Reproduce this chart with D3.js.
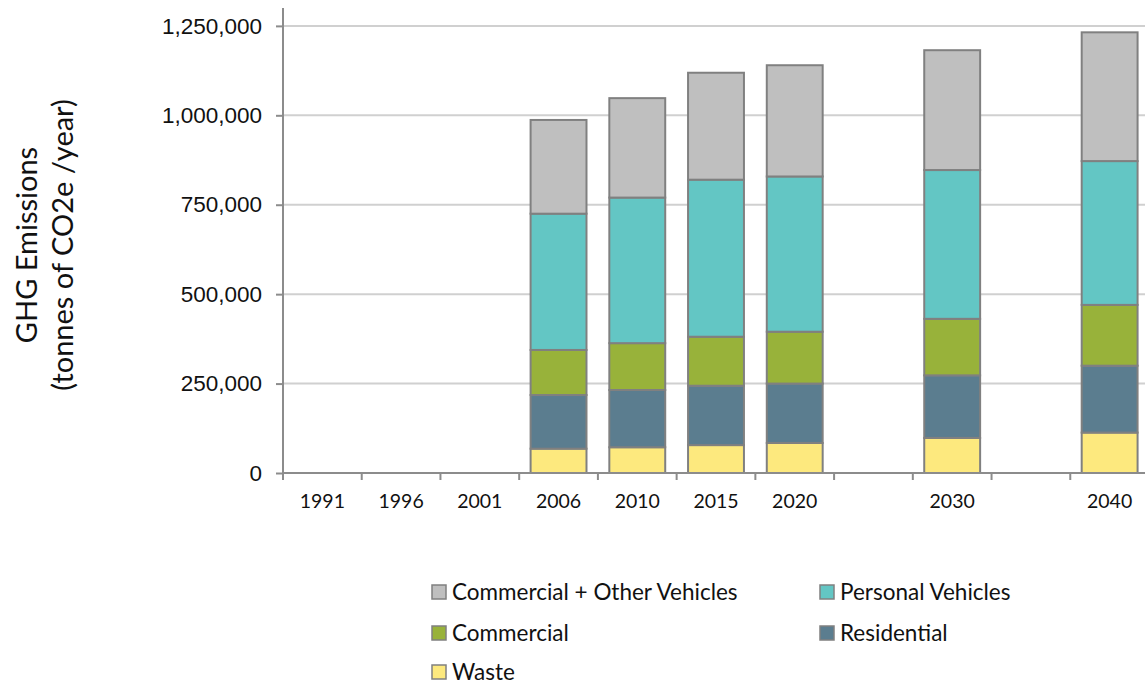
<!DOCTYPE html>
<html>
<head>
<meta charset="utf-8">
<script src="https://cdn.jsdelivr.net/npm/d3@7"></script>
<style>
  html, body { margin: 0; padding: 0; background: #fff; }
  svg { display: block; font-family: Lato, "Open Sans", sans-serif; }
</style>
</head>
<body>
<svg id="chart" width="1145" height="685"></svg>
<script>
// Year slots along the x axis (two unlabelled gap slots between 2020–2030 and 2030–2040)
const yearLabels = ["1991", "1996", "2001", "2006", "2010", "2015", "2020", "", "2030", "", "2040"];

// Emissions by sector, tonnes CO2e per year (null = no data for that slot)
const waste        = [null, null, null,  68000,  72000,  78000,  84000, null,  98000, null, 113000];
const residential  = [null, null, null, 150000, 160000, 166000, 166000, null, 175000, null, 187000];
const commercial   = [null, null, null, 126000, 131000, 137000, 145000, null, 158000, null, 170000];
const personalVeh  = [null, null, null, 381000, 407000, 439000, 434000, null, 416000, null, 402000];
const otherVeh     = [null, null, null, 262000, 278000, 299000, 311000, null, 335000, null, 360000];

const seriesNames  = ["Waste", "Residential", "Commercial", "Personal Vehicles", "Commercial + Other Vehicles"];
const seriesColors = ["#FDE97E", "#5B7D8F", "#98B23A", "#63C6C4", "#BFBFBF"];
const yTicks = [0, 250000, 500000, 750000, 1000000, 1250000];

const svg = d3.select("#chart");
const plot = { left: 283, right: 1149, top: 8, bottom: 473 };

const rows = yearLabels.map((lab, i) => ({
  idx: i,
  "Waste": waste[i] || 0,
  "Residential": residential[i] || 0,
  "Commercial": commercial[i] || 0,
  "Personal Vehicles": personalVeh[i] || 0,
  "Commercial + Other Vehicles": otherVeh[i] || 0,
  has: waste[i] != null
}));

const x = d3.scaleBand()
  .domain(d3.range(yearLabels.length))
  .range([plot.left, plot.right])
  .paddingInner(0.29)
  .paddingOuter(0.145);

const y = d3.scaleLinear()
  .domain([0, 1300000])
  .range([plot.bottom, plot.top]);

// Horizontal gridlines
svg.append("g")
  .selectAll("line")
  .data(yTicks.filter(t => t > 0))
  .join("line")
  .attr("x1", plot.left).attr("x2", 1145)
  .attr("y1", d => y(d)).attr("y2", d => y(d))
  .attr("stroke", "#D0D0D0")
  .attr("stroke-width", 2);

// Stacked bars
const stack = d3.stack().keys(seriesNames);
const layers = stack(rows);
const color = d3.scaleOrdinal().domain(seriesNames).range(seriesColors);

svg.append("g")
  .selectAll("g")
  .data(layers)
  .join("g")
  .attr("fill", d => color(d.key))
  .selectAll("rect")
  .data(d => d.filter(s => s.data.has))
  .join("rect")
  .attr("x", d => x(d.data.idx))
  .attr("width", x.bandwidth())
  .attr("y", d => y(d[1]))
  .attr("height", d => y(d[0]) - y(d[1]))
  .attr("stroke", "#808080")
  .attr("stroke-width", 2);

// Y axis
const yAxis = svg.append("g")
  .attr("transform", `translate(${plot.left},0)`)
  .call(d3.axisLeft(y).tickValues(yTicks).tickSize(7).tickPadding(14).tickFormat(d3.format(",")));
yAxis.select(".domain").attr("d", `M-0,${plot.top}V${plot.bottom}`);
yAxis.selectAll("path, line").attr("stroke", "#8C8C8C").attr("stroke-width", 2);
yAxis.selectAll("text").attr("font-size", 22.5).attr("fill", "#111");

// X axis: ticks sit on the slot boundaries, labels centred in each slot
const xAxis = svg.append("g").attr("transform", `translate(0,${plot.bottom})`);
xAxis.append("line")
  .attr("x1", plot.left).attr("x2", 1145)
  .attr("stroke", "#8C8C8C").attr("stroke-width", 2);
const step = x.step();
xAxis.selectAll(".tick")
  .data(d3.range(yearLabels.length))
  .join("line")
  .attr("class", "tick")
  .attr("x1", i => x(i) - (step - x.bandwidth()) / 2)
  .attr("x2", i => x(i) - (step - x.bandwidth()) / 2)
  .attr("y1", 0).attr("y2", 7)
  .attr("stroke", "#8C8C8C").attr("stroke-width", 2);
xAxis.selectAll(".lab")
  .data(yearLabels)
  .join("text")
  .attr("class", "lab")
  .attr("x", (d, i) => x(i) + x.bandwidth() / 2)
  .attr("y", 35)
  .attr("text-anchor", "middle")
  .attr("font-size", 19.5)
  .attr("fill", "#111")
  .text(d => d);

// Y axis title
const title = svg.append("text")
  .attr("transform", "translate(0,245) rotate(-90)")
  .attr("text-anchor", "middle")
  .attr("font-size", 29)
  .attr("fill", "#111");
title.append("tspan").attr("x", 0).attr("y", 37).text("GHG Emissions");
title.append("tspan").attr("x", 0).attr("y", 73).text("(tonnes of CO2e /year)");

// Legend
const legendOrder = ["Commercial + Other Vehicles", "Personal Vehicles", "Commercial", "Residential", "Waste"];
const legendCols = [432, 820];
const legendRowY = [592, 633, 672];
const legend = svg.append("g")
  .selectAll("g")
  .data(legendOrder)
  .join("g")
  .attr("transform", (d, i) => `translate(${legendCols[i % 2]},${legendRowY[Math.floor(i / 2)]})`);
legend.append("rect")
  .attr("x", 0).attr("y", -7)
  .attr("width", 14).attr("height", 14)
  .attr("fill", d => color(d))
  .attr("stroke", "#808080").attr("stroke-width", 1.5);
legend.append("text")
  .attr("x", 20).attr("y", 0)
  .attr("dy", "0.34em")
  .attr("font-size", 22.5)
  .attr("fill", "#111")
  .text(d => d);
</script>
</body>
</html>
